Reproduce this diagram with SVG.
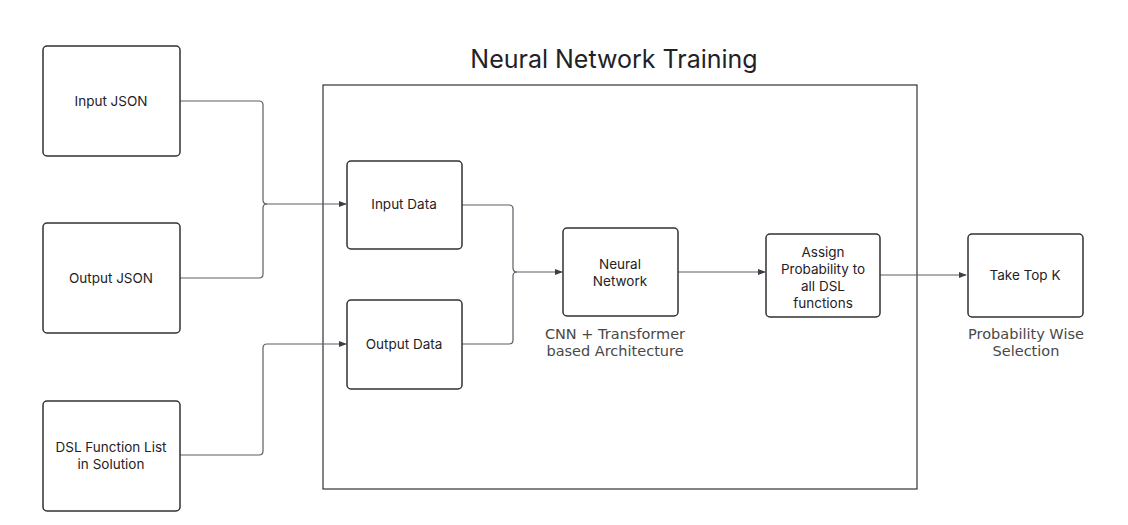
<svg xmlns="http://www.w3.org/2000/svg" width="1128" height="525" viewBox="0 0 1128 525">
<style>
.node rect{fill:#fff;stroke:#2f3237;stroke-width:1.5}
.node text{font-family:Inter,"Liberation Sans",sans-serif;font-size:13.5px;fill:#1f2226;text-anchor:middle}
.node text.lbl{font-family:"DejaVu Sans",sans-serif;font-size:14.5px;fill:#484848;text-anchor:middle}
.conn path{fill:none;stroke:#5a5e66;stroke-width:1.2}
</style>
<defs>
<marker id="arr" viewBox="0 0 10 10" refX="9" refY="5" markerWidth="8" markerHeight="8" markerUnits="userSpaceOnUse" orient="auto">
<path d="M0,1 L10,5 L0,9 Z" fill="#3a3e45"/>
</marker>
</defs>
<rect width="1128" height="525" fill="#fff"/>
<g id="training">
<rect x="323" y="85" width="594" height="404" fill="none" stroke="#2f3237" stroke-width="1.2"/>
<text x="614" y="68" font-family="Inter,'Liberation Sans',sans-serif" font-size="25" fill="#1f2226" text-anchor="middle">Neural Network Training</text>
</g>
<g class="conn" id="connectors">
<path d="M180,101 H259 Q263,101 263,105 V200 Q263,204 267,204 H346" marker-end="url(#arr)"/>
<path d="M180,278 H259 Q263,278 263,274 V208 Q263,204 267,204"/>
<path d="M180,455 H259 Q263,455 263,451 V348 Q263,344 267,344 H346" marker-end="url(#arr)"/>
<path d="M462,205 H509 Q513,205 513,209 V268 Q513,272 517,272 H562" marker-end="url(#arr)"/>
<path d="M462,344 H509 Q513,344 513,340 V276 Q513,272 517,272"/>
<path d="M678,272 H765" marker-end="url(#arr)"/>
<path d="M880,275 H966" marker-end="url(#arr)"/>
</g>
<g class="node" id="input-json">
<rect x="43" y="46" width="137" height="110" rx="4"/>
<text x="111" y="106">Input JSON</text>
</g>
<g class="node" id="output-json">
<rect x="43" y="223" width="137" height="110" rx="4"/>
<text x="111" y="283">Output JSON</text>
</g>
<g class="node" id="dsl-list">
<rect x="43" y="401" width="137" height="110" rx="4"/>
<text x="111" y="452">DSL Function List<tspan x="111" dy="17">in Solution</tspan></text>
</g>
<g class="node" id="input-data">
<rect x="347" y="161" width="115" height="88" rx="4"/>
<text x="404" y="209">Input Data</text>
</g>
<g class="node" id="output-data">
<rect x="347" y="300" width="115" height="89" rx="4"/>
<text x="404" y="349">Output Data</text>
</g>
<g class="node" id="neural-network">
<rect x="563" y="228" width="115" height="88" rx="4"/>
<text x="620" y="269">Neural<tspan x="620" dy="17">Network</tspan></text>
<text class="lbl" x="615" y="339">CNN + Transformer<tspan x="615" dy="17">based Architecture</tspan></text>
</g>
<g class="node" id="assign-prob">
<rect x="766" y="234" width="114" height="83" rx="4"/>
<text x="823" y="257">Assign<tspan x="823" dy="17">Probability to</tspan><tspan x="823" dy="17">all DSL</tspan><tspan x="823" dy="17">functions</tspan></text>
</g>
<g class="node" id="take-top-k">
<rect x="968" y="234" width="115" height="83" rx="4"/>
<text x="1025" y="280">Take Top K</text>
<text class="lbl" x="1026" y="339">Probability Wise<tspan x="1026" dy="17">Selection</tspan></text>
</g>
</svg>
